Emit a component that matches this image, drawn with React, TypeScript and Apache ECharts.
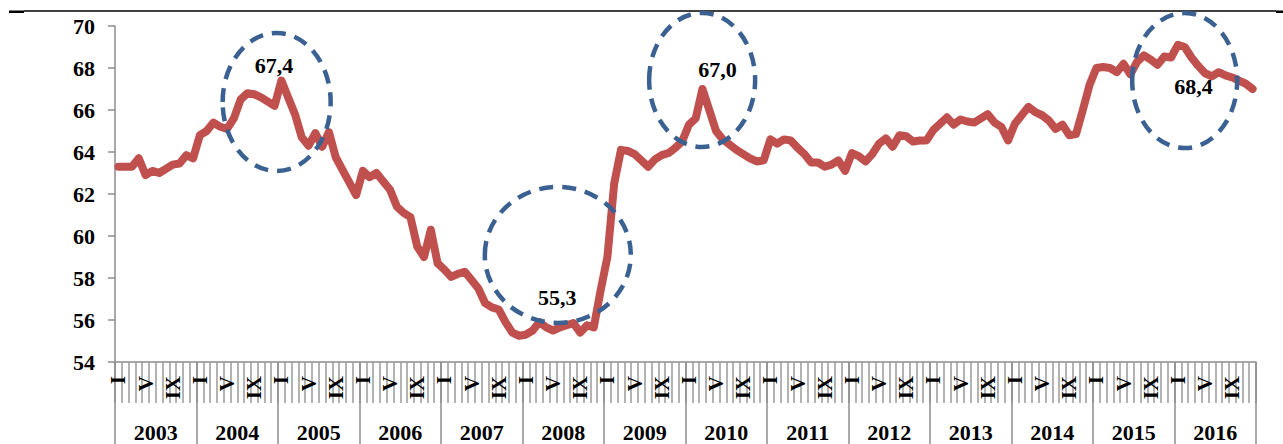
import React, { useEffect, useRef } from "react";
import * as echarts from "echarts";

const years = ["2003", "2004", "2005", "2006", "2007", "2008", "2009", "2010", "2011", "2012", "2013", "2014", "2015", "2016"];
const monthNames = ["I", "II", "III", "IV", "V", "VI", "VII", "VIII", "IX", "X", "XI", "XII"];

const v2003 = [63.3, 63.3, 63.3, 63.7, 62.9, 63.1, 63.0, 63.2, 63.4, 63.45, 63.85, 63.7];
const v2004 = [64.8, 65.0, 65.4, 65.2, 65.1, 65.6, 66.5, 66.8, 66.75, 66.6, 66.4, 66.2];
const v2005 = [67.4, 66.6, 65.8, 64.7, 64.3, 64.9, 64.25, 64.95, 63.75, 63.15, 62.55, 61.95];
const v2006 = [63.1, 62.8, 63.0, 62.6, 62.2, 61.4, 61.1, 60.9, 59.5, 59.0, 60.3, 58.7];
const v2007 = [58.4, 58.05, 58.2, 58.3, 57.9, 57.5, 56.8, 56.6, 56.5, 55.9, 55.4, 55.25];
const v2008 = [55.3, 55.5, 55.9, 55.65, 55.5, 55.65, 55.75, 55.85, 55.4, 55.75, 55.65, 57.4];
const v2009 = [59.0, 62.5, 64.1, 64.05, 63.9, 63.6, 63.3, 63.65, 63.85, 63.95, 64.2, 64.5];
const v2010 = [65.3, 65.6, 67.0, 66.0, 65.0, 64.6, 64.35, 64.1, 63.9, 63.7, 63.55, 63.6];
const v2011 = [64.6, 64.4, 64.6, 64.55, 64.2, 63.9, 63.5, 63.5, 63.3, 63.4, 63.6, 63.1];
const v2012 = [63.95, 63.8, 63.55, 63.9, 64.4, 64.65, 64.25, 64.8, 64.75, 64.5, 64.55, 64.55];
const v2013 = [65.05, 65.35, 65.65, 65.3, 65.55, 65.45, 65.4, 65.6, 65.8, 65.4, 65.2, 64.55];
const v2014 = [65.35, 65.75, 66.15, 65.9, 65.75, 65.5, 65.1, 65.3, 64.8, 64.85, 66.0, 67.2];
const v2015 = [68.0, 68.05, 68.0, 67.8, 68.2, 67.7, 68.3, 68.6, 68.4, 68.15, 68.55, 68.5];
const v2016 = [69.1, 69.0, 68.5, 68.1, 67.75, 67.6, 67.8, 67.65, 67.55, 67.4, 67.25, 67.0];

const values = [
  ...v2003, ...v2004, ...v2005, ...v2006, ...v2007, ...v2008, ...v2009,
  ...v2010, ...v2011, ...v2012, ...v2013, ...v2014, ...v2015, ...v2016,
];

const monthKeys = years.flatMap((y) => monthNames.map((m) => `${y}-${m}`));

const yMin = 54;
const yMax = 70;
const yStep = 2;

// annotations in data coordinates: [month index, value]
const peakTexts = ["67,4", "55,3", "67,0", "68,4"];
const peakTextAt: [number, number][] = [[22.9, 68.1], [64.6, 57.07], [88.2, 67.93], [158.3, 67.14]];
const circleAt: [number, number][] = [[23.3, 66.38], [64.7, 59.1], [85.95, 67.43], [157.0, 67.4]];

const FONT = '"Liberation Serif", "Times New Roman", serif';
const GRAY = "#8c8c8c";
const circleRadii = [[54, 69], [73, 68], [53, 67], [52.5, 67.5]];

export default function App() {
  const ref = useRef<HTMLDivElement>(null);

  useEffect(() => {
    document.body.style.margin = "0";
    const chart = echarts.init(ref.current!, null, { renderer: "svg" });
    chart.setOption({
      animation: false,
      grid: { left: 115, right: 27, top: 26, bottom: 82, containLabel: false, outerBoundsMode: "none" },
      xAxis: [
        {
          type: "category",
          data: monthKeys,
          boundaryGap: true,
          axisLine: { show: true, lineStyle: { color: GRAY, width: 1.5 } },
          axisTick: { show: true, interval: 0, length: 41, lineStyle: { color: "#9a9a9a", width: 1.5 } },
          axisLabel: {
            interval: (i: number) => i % 4 === 0,
            rotate: 90,
            margin: 14,
            formatter: (v: string) => v.split("-")[1],
            color: "#000",
            fontFamily: FONT,
            fontWeight: "bold",
            fontSize: 21,
            hideOverlap: false,
          },
          splitLine: { show: false },
        },
        {
          type: "category",
          data: years,
          position: "bottom",
          boundaryGap: true,
          axisLine: { show: false },
          axisTick: { show: true, interval: 0, length: 82, lineStyle: { color: GRAY, width: 1.5 } },
          axisLabel: {
            interval: 0,
            margin: 59,
            color: "#000",
            fontFamily: FONT,
            fontWeight: "bold",
            fontSize: 22,
          },
          splitLine: { show: false },
        },
      ],
      yAxis: {
        type: "value",
        min: yMin,
        max: yMax,
        interval: yStep,
        axisLine: { show: true, lineStyle: { color: GRAY, width: 1.5 } },
        axisTick: { show: true, length: 7, lineStyle: { color: GRAY, width: 1.5 } },
        splitLine: { show: false },
        axisLabel: {
          margin: 20,
          color: "#000",
          fontFamily: FONT,
          fontWeight: "bold",
          fontSize: 22,
        },
      },
      series: [
        {
          type: "line",
          data: values,
          xAxisIndex: 0,
          yAxisIndex: 0,
          symbol: "none",
          smooth: false,
          lineStyle: { color: "#C0504D", width: 8, join: "round", cap: "round" },
          itemStyle: { color: "#C0504D" },
          z: 2,
        },
      ],
    });

    const p0 = chart.convertToPixel({ xAxisIndex: 0 }, monthKeys[0]) as number;
    const p1 = chart.convertToPixel({ xAxisIndex: 0 }, monthKeys[1]) as number;
    const step = p1 - p0;
    const toPx = (i: number, v: number): [number, number] => [
      p0 + step * i,
      chart.convertToPixel({ yAxisIndex: 0 }, v) as number,
    ];

    const graphics: any[] = [
      { type: "line", shape: { x1: 24, y1: 11, x2: 1276, y2: 11 }, style: { stroke: "#000", lineWidth: 1.4 } },
      { type: "rect", shape: { x: 9, y: 10.5, width: 15, height: 2.5 }, style: { fill: "#000" } },
      { type: "rect", shape: { x: 1276, y: 10.5, width: 7, height: 2.5 }, style: { fill: "#000" } },
    ];
    circleAt.forEach(([i, v], k) => {
      const [cx, cy] = toPx(i, v);
      graphics.push({
        type: "ellipse",
        z: 100,
        shape: { cx, cy, rx: circleRadii[k][0], ry: circleRadii[k][1] },
        style: { fill: "none", stroke: "#3A6192", lineWidth: 4.5, lineDash: [14, 9] },
      });
    });
    peakTextAt.forEach(([i, v], k) => {
      const [x, y] = toPx(i, v);
      graphics.push({
        type: "text",
        z: 101,
        x,
        y,
        style: {
          text: peakTexts[k],
          fill: "#000",
          fontFamily: FONT,
          fontWeight: "bold",
          fontSize: 22,
          align: "center",
          verticalAlign: "middle",
        },
      });
    });
    chart.setOption({ graphic: graphics });

    return () => chart.dispose();
  }, []);

  return <div ref={ref} style={{ width: 1283, height: 444 }} />;
}
